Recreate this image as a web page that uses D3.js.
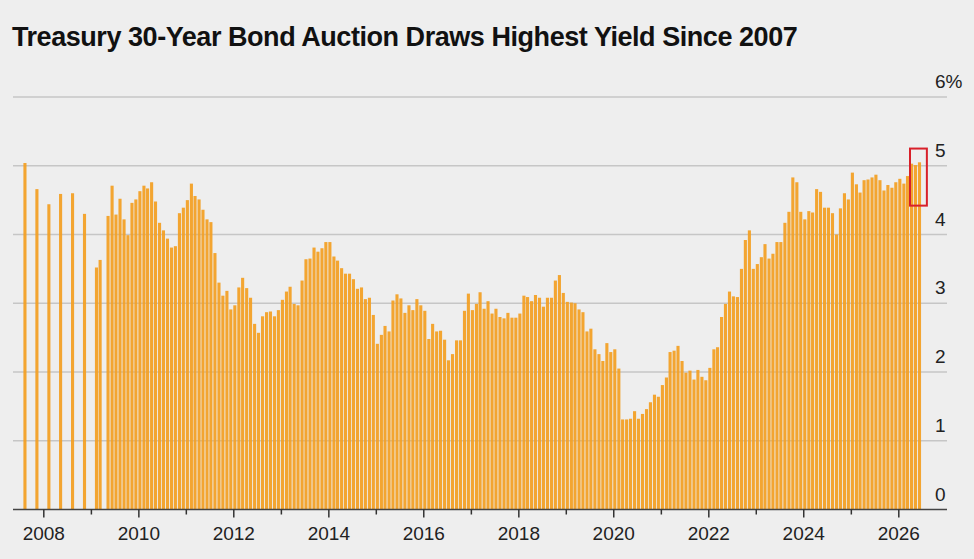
<!DOCTYPE html>
<html>
<head>
<meta charset="utf-8">
<script src="https://cdn.jsdelivr.net/npm/d3@7"></script>
<style>
  html, body { margin: 0; padding: 0; background: #eeeeee; }
  svg { display: block; font-family: "Liberation Sans", Arial, Helvetica, sans-serif; }
</style>
</head>
<body>
<svg id="chart" width="974" height="559"></svg>
<script>
const titleText = "Treasury 30-Year Bond Auction Draws Highest Yield Since 2007";

// auctions before the monthly schedule started
const earlyMonths = ["2007-08", "2007-11", "2008-02", "2008-05", "2008-08", "2008-11", "2009-02", "2009-03"];
const earlyYields = [5.04, 4.66, 4.44, 4.59, 4.60, 4.30, 3.52, 3.63];

// monthly auctions, one block per start month
const block1Start = "2009-05";
const block1Yields = [4.27, 4.71, 4.29, 4.52, 4.22, 3.99, 4.46, 4.51, 4.63, 4.71, 4.67, 4.76,
  4.48, 4.17, 4.06, 3.94, 3.81, 3.83, 4.31, 4.39, 4.50, 4.74, 4.56, 4.51, 4.36, 4.22, 4.18,
  3.73, 3.30, 3.11, 3.18, 2.91, 2.97, 3.23, 3.37, 3.22, 3.08, 2.70, 2.57, 2.81, 2.87, 2.88,
  2.81, 2.90, 3.05, 3.17, 3.24, 2.99, 2.97, 3.33, 3.64];

const block2Start = "2013-08";
const block2Yields = [3.65, 3.81, 3.75, 3.80, 3.89, 3.89, 3.68, 3.62, 3.51, 3.43, 3.43, 3.35,
  3.21, 3.23, 3.06, 3.08, 2.83, 2.41, 2.54, 2.67, 2.59, 3.04, 3.13, 3.07, 2.86, 2.97, 2.90,
  3.06, 2.97, 2.89, 2.48, 2.70, 2.59, 2.60, 2.47, 2.17, 2.26, 2.46, 2.46, 2.89, 3.14, 2.90,
  2.99, 3.16, 2.92, 3.03, 2.85, 2.92, 2.80, 2.78, 2.86, 2.79];

const block3Start = "2017-12";
const block3Yields = [2.79, 2.85, 3.11, 3.09, 3.03, 3.12, 3.08, 2.95, 3.08, 3.08, 3.33, 3.41,
  3.15, 3.02, 3.01, 3.00, 2.91, 2.87, 2.59, 2.63, 2.33, 2.26, 2.16, 2.42, 2.29, 2.33, 2.05,
  1.31, 1.31, 1.32, 1.43, 1.32, 1.39, 1.46, 1.56, 1.67, 1.64, 1.81, 1.92, 2.29, 2.31, 2.38,
  2.16, 1.99, 2.02, 1.89, 2.03, 1.93, 1.88, 2.06, 2.33, 2.36];

const block4Start = "2022-04";
const block4Yields = [2.80, 2.99, 3.17, 3.10, 3.09, 3.50, 3.92, 4.06, 3.50, 3.57, 3.67, 3.86,
  3.65, 3.72, 3.89, 3.89, 4.17, 4.33, 4.83, 4.76, 4.33, 4.22, 4.34, 4.32, 4.66, 4.62, 4.39,
  4.39, 4.31, 4.00, 4.38, 4.60, 4.51, 4.90, 4.73, 4.61, 4.79, 4.80, 4.83, 4.87, 4.79, 4.64,
  4.72, 4.68, 4.76, 4.81, 4.74, 4.85, 5.03, 5.01, 5.05];

const yTicks = [0, 1, 2, 3, 4, 5, 6];
const majorYears = [2008, 2010, 2012, 2014, 2016, 2018, 2020, 2022, 2024, 2026];
const minorYears = [2009, 2011, 2013, 2015, 2017, 2019, 2021, 2023, 2025];

// red box around the latest auctions
const highlightMonths = ["2026-04", "2026-08"];
const highlightRange = [4.42, 5.25];

const parseMonth = d3.timeParse("%Y-%m");

const data = [];
earlyMonths.forEach((m, i) => data.push({ date: parseMonth(m), value: earlyYields[i] }));
[[block1Start, block1Yields], [block2Start, block2Yields],
 [block3Start, block3Yields], [block4Start, block4Yields]].forEach(([start, values]) => {
  const s = parseMonth(start);
  values.forEach((v, i) => data.push({ date: d3.timeMonth.offset(s, i), value: v }));
});

const svg = d3.select("#chart");
const left = 13, right = 947;

const x = d3.scaleTime()
  .domain([new Date(2008, 0, 1), new Date(2026, 0, 1)])
  .range([43.3, 898.3]);

const y = d3.scaleLinear()
  .domain([0, 6])
  .range([509.5, 97]);

// title
svg.append("text")
  .attr("x", 12)
  .attr("y", 46)
  .attr("font-size", 27)
  .attr("font-weight", "bold")
  .attr("letter-spacing", -0.45)
  .attr("fill", "#111")
  .text(titleText);

// gridlines
svg.append("g")
  .selectAll("line")
  .data(yTicks.filter(t => t > 0))
  .enter().append("line")
  .attr("x1", left)
  .attr("x2", right)
  .attr("y1", d => y(d))
  .attr("y2", d => y(d))
  .attr("stroke", "#c6c6c6")
  .attr("stroke-width", 1.6);

// bars
const barW = 3.1;
svg.append("g")
  .selectAll("rect")
  .data(data)
  .enter().append("rect")
  .attr("x", d => x(d.date))
  .attr("y", d => y(d.value))
  .attr("width", barW)
  .attr("height", d => y(0) - y(d.value))
  .attr("fill", "#f2a026")
  .attr("opacity", 0.95);

// y labels
svg.append("g")
  .selectAll("text")
  .data(yTicks)
  .enter().append("text")
  .attr("x", 935)
  .attr("y", d => y(d) - 9)
  .attr("font-size", 19)
  .attr("fill", "#222")
  .text(d => d === 6 ? "6%" : d);

// x axis
const axisY = y(0);
svg.append("line")
  .attr("x1", left).attr("x2", right)
  .attr("y1", axisY).attr("y2", axisY)
  .attr("stroke", "#444")
  .attr("stroke-width", 1.5);

const majorAxis = svg.append("g")
  .attr("transform", `translate(0,${axisY})`)
  .call(d3.axisBottom(x)
    .tickValues(majorYears.map(yr => new Date(yr, 0, 1)))
    .tickSize(8)
    .tickPadding(9)
    .tickFormat(d3.timeFormat("%Y")));
majorAxis.select(".domain").remove();
majorAxis.selectAll("line").attr("stroke", "#333").attr("stroke-width", 1.5);
majorAxis.selectAll("text")
  .attr("font-size", 19)
  .attr("font-family", "Liberation Sans, Arial, sans-serif")
  .attr("fill", "#222");

const minorAxis = svg.append("g")
  .attr("transform", `translate(0,${axisY})`)
  .call(d3.axisBottom(x)
    .tickValues(minorYears.map(yr => new Date(yr, 0, 1)))
    .tickSize(5)
    .tickFormat(""));
minorAxis.select(".domain").remove();
minorAxis.selectAll("line").attr("stroke", "#333").attr("stroke-width", 1.5);

// highlight box
const hx0 = x(parseMonth(highlightMonths[0]));
const hx1 = x(parseMonth(highlightMonths[1])) + 1;
svg.append("rect")
  .attr("x", hx0)
  .attr("y", y(highlightRange[1]))
  .attr("width", hx1 - hx0)
  .attr("height", y(highlightRange[0]) - y(highlightRange[1]))
  .attr("fill", "none")
  .attr("stroke", "#d8202a")
  .attr("stroke-width", 2);
</script>
</body>
</html>
